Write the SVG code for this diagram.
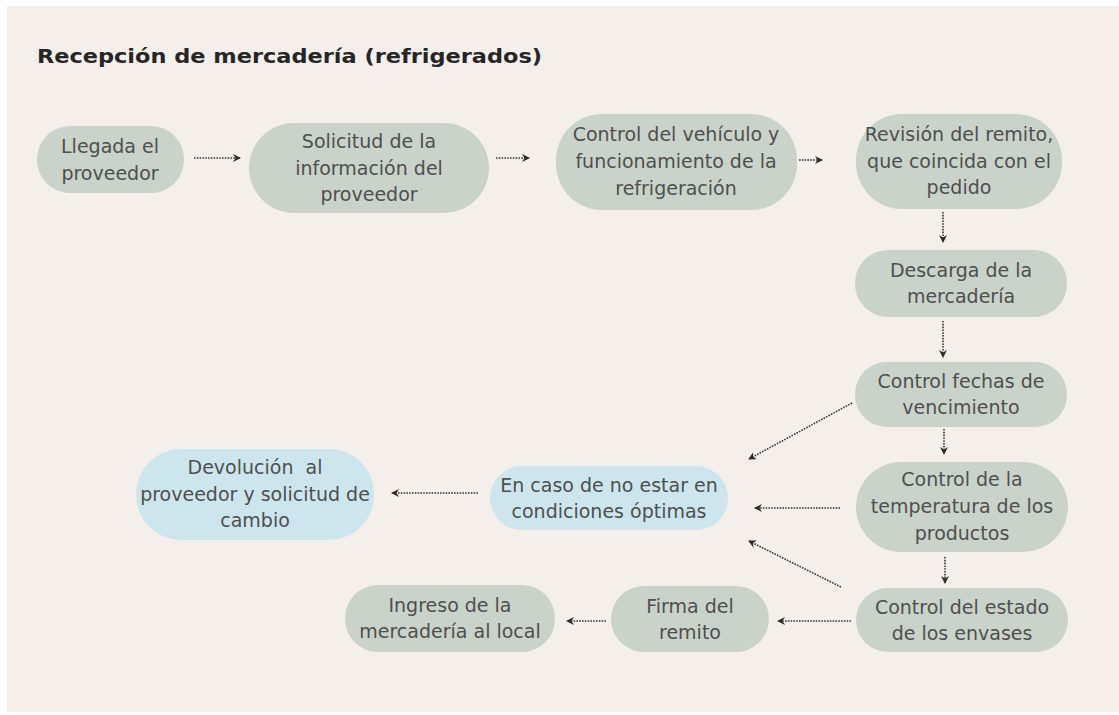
<svg xmlns="http://www.w3.org/2000/svg" width="1119" height="715" viewBox="0 0 1119 715">
<defs>
<marker id="ah" viewBox="0 0 8 8" refX="7" refY="4" markerWidth="8" markerHeight="8" markerUnits="userSpaceOnUse" orient="auto">
<path d="M0,0 L8,4 L0,8 L2.5,4 Z" fill="#2b2b2b"/>
</marker>
</defs>
<style>
.g{fill:#c9d3ca}
.b{fill:#cde6ee}
.t{font-family:"DejaVu Sans","Noto Sans",sans-serif;font-size:19px;fill:#4f4f4f;text-anchor:middle;white-space:pre}
.title{font-family:"DejaVu Sans","Noto Sans",sans-serif;font-size:20px;font-weight:bold;fill:#262626}
.c{fill:none;stroke:#3a3a3a;stroke-width:1.6;stroke-dasharray:1.6 1.2;marker-end:url(#ah)}
</style>
<rect x="0" y="0" width="1119" height="715" fill="#ffffff"/>
<rect x="7" y="6" width="1112" height="706" fill="#f4efea"/>
<text class="title" x="37" y="63" textLength="505" lengthAdjust="spacingAndGlyphs">Recepción de mercadería (refrigerados)</text>

<g id="n1"><rect class="g" x="37" y="126" width="147" height="67" rx="33"/>
<text class="t" x="110" y="153">Llegada el</text><text class="t" x="110" y="179.5">proveedor</text></g>

<g id="n2"><rect class="g" x="249" y="123" width="240" height="90" rx="45"/>
<text class="t" x="369" y="148">Solicitud de la</text><text class="t" x="369" y="174.5">información del</text><text class="t" x="369" y="201">proveedor</text></g>

<g id="n3"><rect class="g" x="556" y="114" width="241" height="96" rx="46"/>
<text class="t" x="676" y="141">Control del vehículo y</text><text class="t" x="676" y="168">funcionamiento de la</text><text class="t" x="676" y="194.5">refrigeración</text></g>

<g id="n4"><rect class="g" x="856" y="114" width="206" height="95" rx="46"/>
<text class="t" x="959" y="140.5">Revisión del remito,</text><text class="t" x="959" y="167.5">que coincida con el</text><text class="t" x="959" y="194">pedido</text></g>

<g id="n5"><rect class="g" x="855" y="250" width="212" height="67" rx="33"/>
<text class="t" x="961" y="277">Descarga de la</text><text class="t" x="961" y="303">mercadería</text></g>

<g id="n6"><rect class="g" x="855" y="362" width="212" height="65" rx="32"/>
<text class="t" x="961" y="388">Control fechas de</text><text class="t" x="961" y="414">vencimiento</text></g>

<g id="n7"><rect class="g" x="856" y="462" width="212" height="90" rx="45"/>
<text class="t" x="962" y="485.5">Control de la</text><text class="t" x="962" y="513">temperatura de los</text><text class="t" x="962" y="539.5">productos</text></g>

<g id="n8"><rect class="g" x="856" y="588" width="212" height="64" rx="32"/>
<text class="t" x="962" y="613.5">Control del estado</text><text class="t" x="962" y="639.5">de los envases</text></g>

<g id="n9"><rect class="g" x="611" y="586" width="158" height="66" rx="33"/>
<text class="t" x="690" y="612.5">Firma del</text><text class="t" x="690" y="638.5">remito</text></g>

<g id="n10"><rect class="g" x="345" y="585" width="210" height="67" rx="33"/>
<text class="t" x="450" y="612">Ingreso de la</text><text class="t" x="450" y="638">mercadería al local</text></g>

<g id="n11"><rect class="b" x="490" y="466" width="238" height="64" rx="32"/>
<text class="t" x="609" y="491.5">En caso de no estar en</text><text class="t" x="609" y="517.5">condiciones óptimas</text></g>

<g id="n12"><rect class="b" x="136" y="449" width="238" height="91" rx="45"/>
<text class="t" x="255" y="473.5">Devolución  al</text><text class="t" x="255" y="500.5">proveedor y solicitud de</text><text class="t" x="255" y="527">cambio</text></g>

<g id="connectors">
<line class="c" x1="194" y1="158" x2="240" y2="158"/>
<line class="c" x1="496" y1="158" x2="529" y2="158"/>
<line class="c" x1="799" y1="160" x2="822" y2="160"/>
<line class="c" x1="943" y1="212" x2="943" y2="242"/>
<line class="c" x1="943" y1="321" x2="943" y2="357"/>
<line class="c" x1="944" y1="429" x2="944" y2="454"/>
<line class="c" x1="945" y1="557" x2="945" y2="583"/>
<line class="c" x1="852" y1="403" x2="749" y2="459"/>
<line class="c" x1="840" y1="508" x2="755" y2="508"/>
<line class="c" x1="841" y1="587" x2="749" y2="541"/>
<line class="c" x1="478" y1="493" x2="392" y2="493"/>
<line class="c" x1="851" y1="621" x2="778" y2="621"/>
<line class="c" x1="606" y1="621" x2="567" y2="621"/>
</g>
</svg>
